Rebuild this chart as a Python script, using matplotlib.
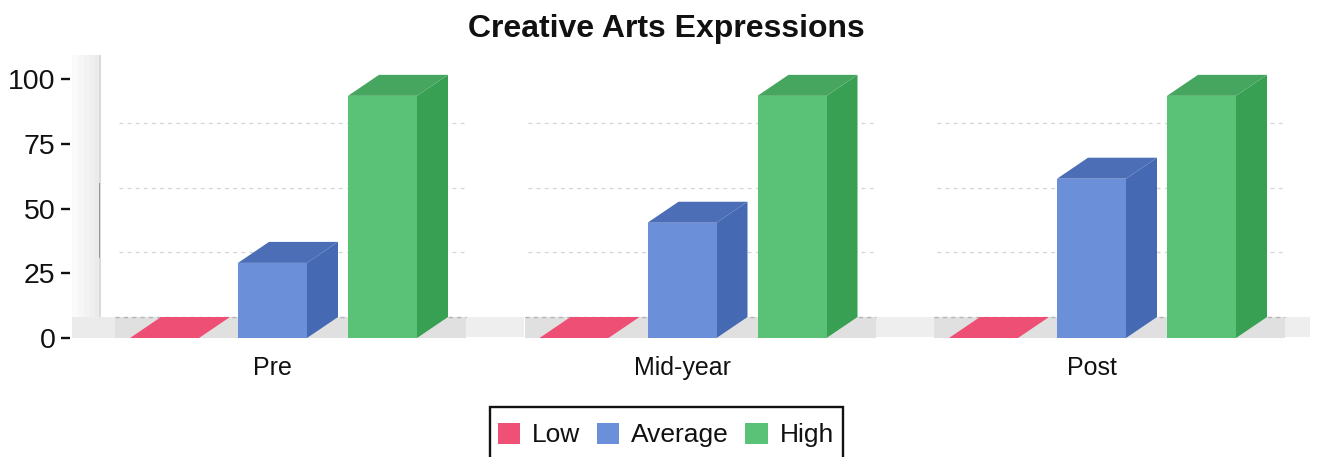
import matplotlib
matplotlib.use("Agg")
import matplotlib.pyplot as plt
from matplotlib.patches import Polygon, Rectangle

plt.rcParams['font.family'] = ['Liberation Sans', 'DejaVu Sans']

title = "Creative Arts Expressions"
categories = ["Pre", "Mid-year", "Post"]
series_names = ["Low", "Average", "High"]
low = [0, 0, 0]
average = [29, 44.5, 61.5]
high = [93.5, 93.5, 93.5]
y_ticks = [0, 25, 50, 75, 100]

W, H = 1323, 457
front = ["#EE5076", "#6C8FD9", "#5AC276"]
side = ["#EE5076", "#4569B2", "#37A052"]
top = ["#EE4F74", "#4B6EB6", "#46A660"]

fig = plt.figure(figsize=(W / 100, H / 100), dpi=100, facecolor="white")

# pixel geometry of the plot box
left_px, right_px, bottom_px, top_px = 70, 1323, 338, 55
ax = fig.add_axes([left_px / W, 1 - bottom_px / H,
                   (right_px - left_px) / W, (bottom_px - top_px) / H])
px_per_unit_y = 2.59
px_per_cat = 409.5
cat0_px = 272.5
ax.set_ylim(0, (bottom_px - top_px) / px_per_unit_y)
ax.set_xlim((left_px - cat0_px) / px_per_cat, (right_px - cat0_px) / px_per_cat)

dx = 31 / px_per_cat
dy = 21 / px_per_unit_y
bar_w = 69 / px_per_cat
step = 110 / px_per_cat

for s in ax.spines.values():
    s.set_visible(False)
ax.set_yticks(y_ticks)
ax.set_xticks(range(len(categories)))
ax.set_xticklabels(categories, fontsize=18, color="#111111")
ax.tick_params(axis="x", length=0, pad=13)
ax.tick_params(axis="y", length=6.5, width=1.7, color="#111111", pad=4,
               labelsize=20.5, labelcolor="#111111")
ax.patch.set_alpha(0)

x_left = ax.get_xlim()[0]
wall_top = ax.get_ylim()[1]
px = 1 / px_per_cat

# left wall: soft shading that darkens toward the wall line
for off, shade in zip([2, 8, 14, 20, 25], ["#FAFAFA", "#F6F6F6", "#F2F2F2", "#EFEFEF", "#EBEBEB"]):
    ax.add_patch(Rectangle((x_left + off * px, 0), (29 - off) * px, wall_top, fc=shade, ec="none", zorder=0))
ax.add_patch(Rectangle((x_left + 28.5 * px, dy), 2.5 * px, wall_top - dy, fc="#DADADA", ec="none", zorder=1))
ax.add_patch(Rectangle((x_left + 29.3 * px, 31), 1.0 * px, 29, fc="#9A9A9A", ec="none", zorder=1))
ax.add_patch(Rectangle((x_left + 2 * px, 0), 43 * px, dy, fc="#EBEBEB", ec="none", zorder=0))

for i in range(len(categories)):
    c = i + 0.0
    # floor under the group, then the lighter gap after it
    gl, gr = c - 157.5 * px, c + 193.5 * px
    ax.add_patch(Rectangle((gl, 0), gr - gl, dy, fc="#E0E0E0", ec="none", zorder=1))
    gap_end = gr + (58 if i < 2 else 25) * px
    ax.add_patch(Rectangle((gr, 0.5), gap_end - gr, dy - 0.5, fc="#EEEEEE", ec="none", zorder=1))
    # back-wall grid lines
    for t in y_ticks[1:4]:
        ax.plot([c - 154 * px, c + 193.5 * px], [t + dy, t + dy], color="#D4D4D4",
                lw=0.9, ls=(0, (3, 3.5)), zorder=1)
    ax.plot([gl, gr], [dy, dy], color="#B5B5B5", lw=1.0, ls=(0, (3, 3)), zorder=2)

    values = [low[i], average[i], high[i]]
    for j, v in enumerate(values):
        offset = [-108, 0, 110][j] * px
        x0 = c + offset - bar_w / 2
        x1 = x0 + bar_w
        z = 3 + j
        # side, top, front faces of the bar
        ax.add_patch(Polygon([(x1, 0), (x1 + dx, dy), (x1 + dx, v + dy), (x1, v)],
                             fc=side[j], ec="none", zorder=z))
        ax.add_patch(Polygon([(x0, v), (x1, v), (x1 + dx, v + dy), (x0 + dx, v + dy)],
                             fc=top[j], ec="none", zorder=z))
        ax.add_patch(Rectangle((x0, 0), bar_w, v, fc=front[j], ec="none", zorder=z))

fig.text(666 / W, 1 - 29 / H, title, ha="center", va="center", fontsize=23,
         fontweight="bold", color="#111111")

# legend
fig.add_artist(Rectangle((489.5 / W, 1 - 470 / H), 353 / W, 63 / H, transform=fig.transFigure,
                         fc="white", ec="#111111", lw=1.7))
handles = [Rectangle((0, 0), 1, 1, fc=front[k], ec="none") for k in range(3)]
fig.legend(handles, series_names, loc="center", bbox_to_anchor=(666 / W, 1 - 435 / H),
           ncol=3, frameon=False, fontsize=19, handlelength=0.85, handleheight=0.85,
           handletextpad=0.45, columnspacing=0.62, labelcolor="#111111", borderpad=0, borderaxespad=0)

fig.savefig("out.png", dpi=100, facecolor="white")
